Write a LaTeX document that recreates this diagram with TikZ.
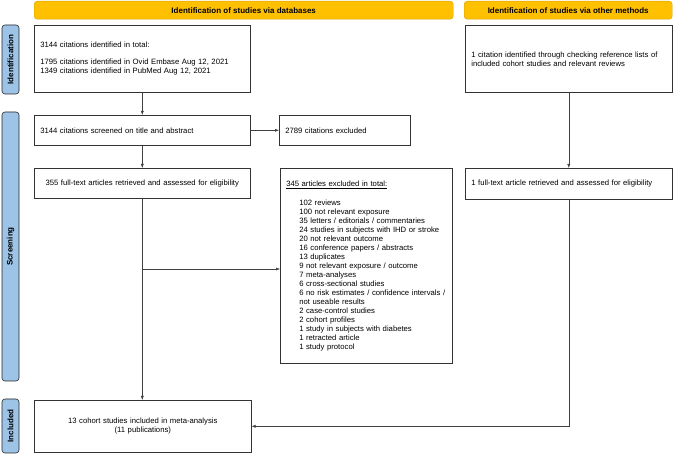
\documentclass[tikz,border=0pt]{standalone}
\usepackage{fontspec}
\setmainfont{Liberation Sans}
\usepackage{xcolor}
\usepackage{tikz}
\usetikzlibrary{arrows.meta}

\definecolor{prismaYellow}{HTML}{FFC000}
\definecolor{prismaBlue}{HTML}{9DC3E6}
\newcommand{\ind}{\hspace*{13pt}}
\hyphenpenalty=10000

\begin{document}
\begin{tikzpicture}[x=1pt, y=-1pt, font=\fontsize{7.7}{9}\selectfont,
    box/.style={draw=black!80, fill=white, semithick, anchor=north west, inner sep=6pt},
    header/.style={draw=prismaYellow!85!black, fill=prismaYellow, rounded corners=3pt, anchor=north west, inner sep=0pt, font=\fontsize{8}{9}\selectfont\bfseries},
    phase/.style={draw=black!85, fill=prismaBlue, semithick, rounded corners=3pt, rotate=90, inner sep=0pt, font=\fontsize{8}{9}\selectfont\bfseries},
    arr/.style={-{Latex[length=4pt,width=3pt]}, black!75}]
    \useasboundingbox (0,0) rectangle (673,454);
    % Column headers
    \node[header, minimum width=419pt, minimum height=18pt] (dbhead) at (34,1) {Identification of studies via databases};
    \node[header, minimum width=208pt, minimum height=18pt] (otherhead) at (464,1) {Identification of studies via other methods};
    % Phases
    \node[phase, minimum width=69pt, minimum height=17pt] (idphase) at (10.5,59.5) {Identification};
    \node[phase, minimum width=269pt, minimum height=17pt] (scrphase) at (10.5,246.5) {Screening};
    \node[phase, minimum width=54pt, minimum height=17pt] (inclphase) at (10.5,426) {Included};
    % Databases
    \node[box, minimum width=216pt, minimum height=67pt, text width=204pt, align=left] (idbox) at (34,25)
        {3144 citations identified in total:\\[8pt]1795 citations identified in Ovid Embase Aug 12, 2021\\1349 citations identified in PubMed Aug 12, 2021};
    \node[box, minimum width=216pt, minimum height=30pt, text width=204pt, align=left] (screenbox) at (34,115)
        {3144 citations screened on title and abstract};
    \node[box, minimum width=131pt, minimum height=30pt, text width=119pt, align=left] (excl1) at (279,115)
        {2789 citations excluded};
    \node[box, minimum width=216pt, minimum height=30pt, text width=204pt, align=center] (fulltext) at (34,168)
        {355 full-text articles retrieved and assessed for eligibility};
    \node[box, minimum width=172pt, minimum height=195pt, text width=160pt, align=left] (excl2) at (280,168)
        {\underline{345 articles excluded in total:}\\[10pt]
        \ind 102 reviews\\
        \ind 100 not relevant exposure\\
        \ind 35 letters / editorials / commentaries\\
        \ind 24 studies in subjects with IHD or stroke\\
        \ind 20 not relevant outcome\\
        \ind 16 conference papers / abstracts\\
        \ind 13 duplicates\\
        \ind 9 not relevant exposure / outcome\\
        \ind 7 meta-analyses\\
        \ind 6 cross-sectional studies\\
        \ind 6 no risk estimates / confidence intervals /\\
        \ind not useable results\\
        \ind 2 case-control studies\\
        \ind 2 cohort profiles\\
        \ind 1 study in subjects with diabetes\\
        \ind 1 retracted article\\
        \ind 1 study protocol};
    % Other methods
    \node[box, minimum width=207pt, minimum height=67pt, text width=195pt, align=left] (otherid) at (465,25)
        {1 citation identified through checking reference lists of\\included cohort studies and relevant reviews};
    \node[box, minimum width=207pt, minimum height=31pt, text width=195pt, align=left] (otherfull) at (465,168)
        {1 full-text article retrieved and assessed for eligibility};
    % Included
    \node[box, minimum width=217pt, minimum height=52pt, text width=205pt, align=center] (inclbox) at (34,400)
        {13 cohort studies included in meta-analysis\\(11 publications)};
    % Arrows
    \draw[arr] (idbox) -- (screenbox);
    \draw[arr] (screenbox) -- (excl1);
    \draw[arr] (screenbox) -- (fulltext);
    \draw[arr] (fulltext.south) -- (fulltext.south |- inclbox.north);
    \coordinate (branch) at (fulltext.south |- 0,269);
    \draw[arr] (branch) -- (branch -| excl2.west);
    \draw[arr] (otherid) -- (otherfull);
    \draw[arr] (otherfull.south) |- (inclbox.east);
\end{tikzpicture}
\end{document}
